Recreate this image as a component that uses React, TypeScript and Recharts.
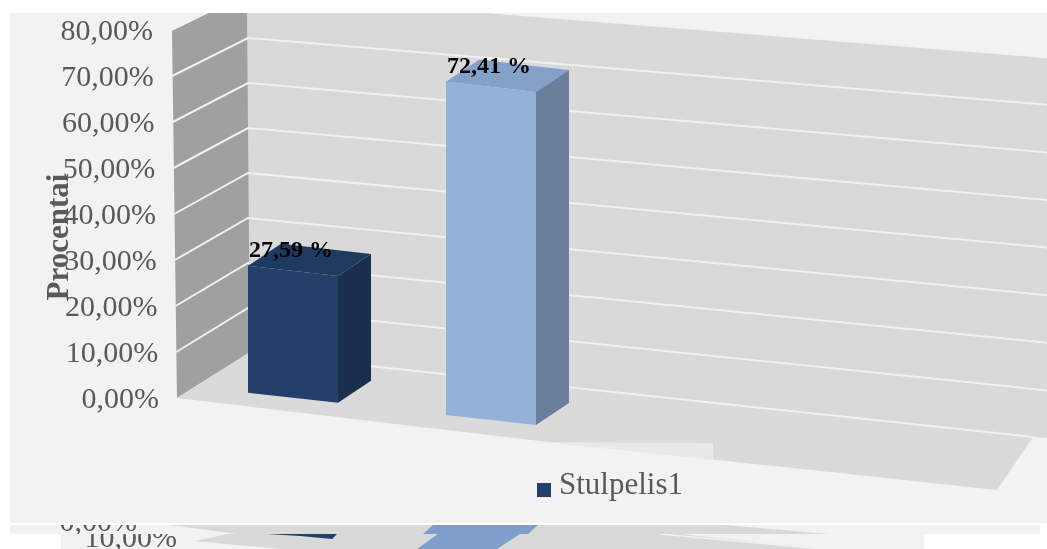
import React from "react";
import { Bar, BarChart, CartesianGrid, LabelList, Legend, XAxis, YAxis } from "recharts";

const CATEGORIES = ["1", "2"];
const VALUES = [27.59, 72.41];
const TICKS = [0, 10, 20, 30, 40, 50, 60, 70, 80];
const SERIES_NAME = "Stulpelis1";
const AXIS_TITLE = "Procentai";

const SERIF = '"Liberation Serif", serif';
const TEXT = "#595959";
const FRONT = ["#24406a", "#93b1d9"];
const SIDE = ["#1a2f4e", "#6a7f9c"];
const TOP = ["#1f3a5f", "#84a1c9"];

const data = CATEGORIES.map((c, i) => ({ name: c, value: VALUES[i] }));

// the floor runs downhill to the right
const shear = (x: number) => (x - 250) * 0.112 - 5;
const PX_PER_UNIT = 4.6;
const BASE_Y = 398;

function Bar3D({ x, y, width, height, index }: any) {
  const x2 = x + width;
  const y1 = y + shear(x);
  const y2 = y + shear(x2);
  const b1 = y1 + height;
  const b2 = y2 + height;
  const dx = 33;
  const dy = -22;
  return (
    <g>
      <polygon
        points={`${x},${y1} ${x2},${y2} ${x2 + dx},${y2 + dy} ${x + dx},${y1 + dy}`}
        fill={TOP[index]}
      />
      <polygon
        points={`${x2},${y2} ${x2 + dx},${y2 + dy} ${x2 + dx},${b2 + dy} ${x2},${b2}`}
        fill={SIDE[index]}
      />
      <polygon points={`${x},${y1} ${x2},${y2} ${x2},${b2} ${x},${b1}`} fill={FRONT[index]} />
    </g>
  );
}

function GridLine(props: any) {
  const v = (BASE_Y - props.y1) / PX_PER_UNIT;
  const backY = 353 - v * 4.5;
  const endX = v < 1 ? 1033 : 1047;
  const endY = v < 1 ? 437 : 438 - v * 4.76;
  const points =
    v < 1
      ? `248,${backY} ${endX},${endY}`
      : `${177 - v * 0.07},${props.y1} 248,${backY} ${endX},${endY}`;
  return (
    <polyline
      key={props.key}
      points={points}
      fill="none"
      stroke="#f1f1f1"
      strokeWidth={2}
      clipPath="url(#panel)"
    />
  );
}

function Tick({ y, payload }: any) {
  return (
    <text
      x={153 + (80 - payload.value) * 0.075}
      y={y + 10}
      textAnchor="end"
      fontFamily={SERIF}
      fontSize={30}
      fill={TEXT}
    >
      {payload.value.toFixed(2).replace(".", ",")}%
    </text>
  );
}

function DataLabel({ x, y, width, value }: any) {
  return (
    <text
      x={x + width / 2 - 2}
      y={y + shear(x) - 9}
      textAnchor="middle"
      fontFamily={SERIF}
      fontWeight="bold"
      fontSize={24}
      fill="#000000"
    >
      {value.toFixed(2).replace(".", ",")} %
    </text>
  );
}

function AxisTitle({ viewBox }: any) {
  const cy = viewBox.y + viewBox.height / 2 + 23;
  return (
    <text
      x={68}
      y={cy}
      transform={`rotate(-90 68 ${cy})`}
      textAnchor="middle"
      fontFamily={SERIF}
      fontWeight="bold"
      fontSize={31}
      fill={TEXT}
    >
      {AXIS_TITLE}
    </text>
  );
}

// backdrop: panel, walls and floor, and the smeared strip under the picture
function Backdrop() {
  return (
    <svg width={1047} height={549} style={{ position: "absolute", left: 0, top: 0 }}>
      <defs>
        <clipPath id="panel">
          <rect x={10} y={13} width={1037} height={510} />
        </clipPath>
        <clipPath id="strip1">
          <rect x={10} y={525} width={1030} height={9} />
        </clipPath>
        <clipPath id="strip2">
          <rect x={61} y={534} width={863} height={15} />
        </clipPath>
      </defs>
      <rect x={10} y={13} width={1037} height={510} fill="#f2f2f2" />
      <g clipPath="url(#panel)">
        <polygon points="247,13 490,13 1047,57 1047,438 1033,437 248,353" fill="#d9d9d9" />
        <polygon points="172,30 207,13 247,13 250,352 177,398" fill="#a0a0a0" />
        <polygon points="177,398 250,352 1033,437 997,490 540,441" fill="#dadada" />
        <polygon points="545,442 713,443 713,460" fill="#e9e9e9" />
      </g>
      <g clipPath="url(#strip1)">
        <rect x={10} y={525} width={1030} height={9} fill="#f2f2f2" />
        <polygon points="170,525 723,525 830,534 237,534" fill="#d9d9d9" />
        <polygon points="433,525 538,525 528,534 423,534" fill="#7f9fca" />
        <text x={137} y={531} textAnchor="end" fontFamily={SERIF} fontSize={30} fill={TEXT}>
          0,00%
        </text>
      </g>
      <g clipPath="url(#strip2)">
        <rect x={61} y={534} width={863} height={15} fill="#f2f2f2" />
        <polygon points="227,534 680,534 823,549 280,549 195,541" fill="#d9d9d9" />
        <polygon points="267,534 337,534 332,539 300,536" fill="#24406a" />
        <polygon points="438,534 520,534 497,549 417,549" fill="#7f9fca" />
        <polyline points="660,534 823,549" fill="none" stroke="#f1f1f1" strokeWidth={1.5} />
        <text x={177} y={547} textAnchor="end" fontFamily={SERIF} fontSize={30} fill={TEXT}>
          10,00%
        </text>
      </g>
    </svg>
  );
}

export default function App() {
  return (
    <div style={{ position: "absolute", left: 0, top: 0, width: 1047, height: 549, background: "#fff", filter: "blur(0.4px)" }}>
      <Backdrop />
      <div style={{ position: "absolute", left: 0, top: 0 }}>
        <BarChart
          width={1047}
          height={549}
          data={data}
          margin={{ top: 30, right: 61, bottom: 151, left: 0 }}
        >
          <CartesianGrid vertical={false} horizontal={GridLine as any} />
          <XAxis dataKey="name" hide padding={{ left: 0, right: 396 }} />
          <YAxis
            width={194}
            domain={[0, 80]}
            ticks={TICKS}
            axisLine={false}
            tickLine={false}
            tick={Tick as any}
            label={AxisTitle as any}
          />
          <Legend
            layout="horizontal"
            verticalAlign="middle"
            iconType="square"
            iconSize={14}
            wrapperStyle={{ left: 515, top: 466, width: 200, height: 40 }}
            formatter={(v: string) => (
              <span style={{ color: TEXT, fontFamily: SERIF, fontSize: 31, marginLeft: 4 }}>{v}</span>
            )}
          />
          <Bar
            dataKey="value"
            name={SERIES_NAME}
            fill={FRONT[0]}
            barSize={90}
            shape={Bar3D as any}
            isAnimationActive={false}
          >
            <LabelList dataKey="value" content={DataLabel as any} />
          </Bar>
        </BarChart>
      </div>
    </div>
  );
}
